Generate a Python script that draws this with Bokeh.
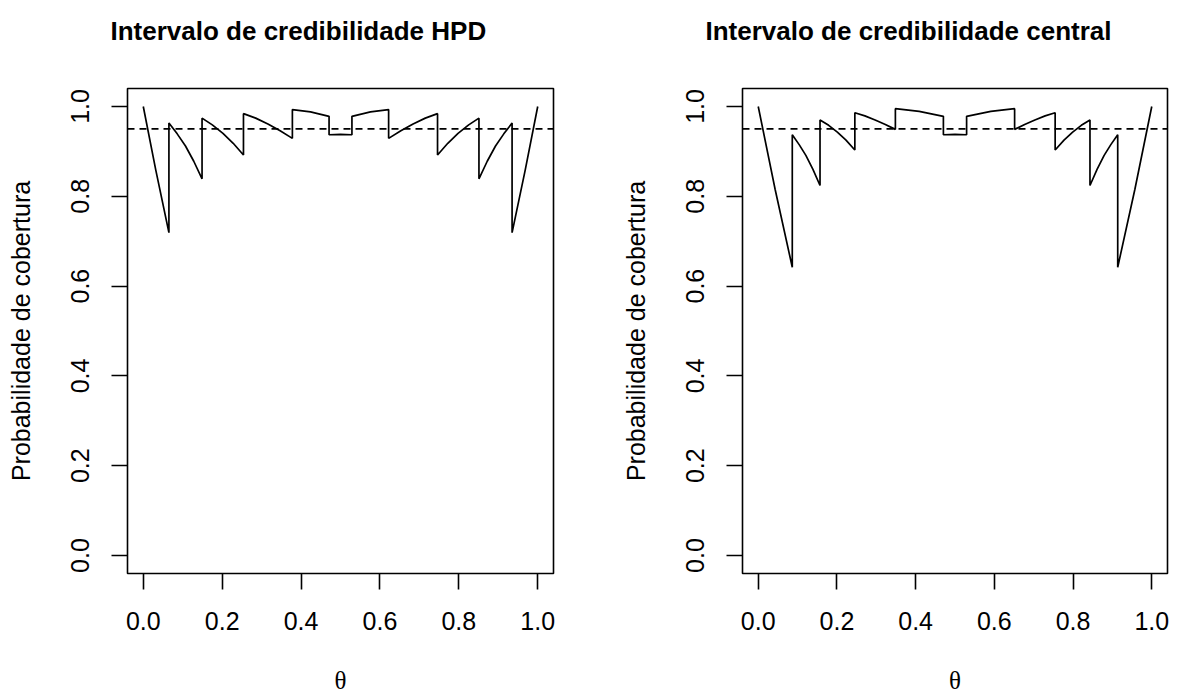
from bokeh.plotting import figure
from bokeh.layouts import row
from bokeh.models import Span, Title, FixedTicker, Range1d, NumeralTickFormatter
from bokeh.embed import file_html
from bokeh.resources import INLINE

# ---- data ----
theta_hpd = [0.0, 0.032, 0.065,
             0.065, 0.086, 0.107, 0.128, 0.149,
             0.149, 0.175, 0.202, 0.228, 0.254,
             0.254, 0.285, 0.316, 0.347, 0.378,
             0.378, 0.424, 0.471,
             0.471, 0.5, 0.529,
             0.529, 0.576, 0.622,
             0.622, 0.653, 0.684, 0.715, 0.746,
             0.746, 0.772, 0.798, 0.825, 0.851,
             0.851, 0.872, 0.893, 0.914, 0.935,
             0.935, 0.968, 1.0]
cov_hpd = [1.0, 0.857, 0.719,
           0.963, 0.939, 0.912, 0.878, 0.839,
           0.974, 0.959, 0.940, 0.918, 0.892,
           0.984, 0.974, 0.961, 0.946, 0.929,
           0.993, 0.988, 0.978,
           0.937, 0.938, 0.937,
           0.978, 0.988, 0.993,
           0.929, 0.946, 0.961, 0.974, 0.984,
           0.892, 0.918, 0.940, 0.959, 0.974,
           0.839, 0.878, 0.912, 0.939, 0.963,
           0.719, 0.857, 1.0]

theta_central = [0.0, 0.043, 0.0865,
                 0.0865, 0.104, 0.121, 0.139, 0.157,
                 0.157, 0.179, 0.201, 0.223, 0.2455,
                 0.2455, 0.271, 0.297, 0.323, 0.3485,
                 0.3485, 0.409, 0.4705,
                 0.4705, 0.5, 0.5295,
                 0.5295, 0.591, 0.6515,
                 0.6515, 0.677, 0.703, 0.729, 0.7545,
                 0.7545, 0.777, 0.799, 0.821, 0.843,
                 0.843, 0.861, 0.879, 0.896, 0.9135,
                 0.9135, 0.957, 1.0]
cov_central = [1.0, 0.815, 0.642,
               0.937, 0.915, 0.891, 0.860, 0.824,
               0.970, 0.958, 0.943, 0.925, 0.903,
               0.986, 0.979, 0.970, 0.960, 0.949,
               0.995, 0.989, 0.978,
               0.937, 0.938, 0.937,
               0.978, 0.989, 0.995,
               0.949, 0.960, 0.970, 0.979, 0.986,
               0.903, 0.925, 0.943, 0.958, 0.970,
               0.824, 0.860, 0.891, 0.915, 0.937,
               0.642, 0.815, 1.0]

nominal = 0.95
ticks = [0.0, 0.2, 0.4, 0.6, 0.8, 1.0]
titles = ["Intervalo de credibilidade HPD", "Intervalo de credibilidade central"]
ylab = "Probabilidade de cobertura"
xlab = "\u03b8"

SANS = "Liberation Sans"
FS = "25px"


def panel(title, th, cov, frame_w, b_left, b_right, title_off):
    p = figure(frame_width=frame_w, frame_height=485,
               min_border_left=b_left, min_border_right=b_right,
               min_border_top=88, min_border_bottom=122,
               x_range=Range1d(-0.04, 1.04), y_range=Range1d(-0.04, 1.04),
               output_backend="svg", toolbar_location=None)
    p.background_fill_color = "white"
    p.border_fill_color = "white"
    p.outline_line_color = "black"
    p.outline_line_width = 1.6
    p.xgrid.visible = False
    p.ygrid.visible = False

    p.line(th, cov, line_color="black", line_width=1.7)
    p.add_layout(Span(location=nominal, dimension="width", line_color="black",
                      line_width=1.6, line_dash="7 5"))

    for ax in (p.xaxis[0], p.yaxis[0]):
        ax.ticker = FixedTicker(ticks=ticks)
        ax.formatter = NumeralTickFormatter(format="0.0")
        ax.axis_line_color = None
        ax.major_tick_line_color = "black"
        ax.major_tick_line_width = 1.6
        ax.major_tick_out = 16
        ax.major_tick_in = 0
        ax.minor_tick_line_color = None
        ax.major_label_text_font = SANS
        ax.major_label_text_font_size = FS
        ax.major_label_text_color = "black"
        ax.major_label_standoff = 22
        ax.axis_label_text_font_style = "normal"
        ax.axis_label_text_color = "black"
        ax.axis_label_text_font_size = FS

    p.yaxis[0].major_label_orientation = "vertical"
    p.yaxis[0].axis_label = ylab
    p.yaxis[0].axis_label_text_font = SANS
    p.yaxis[0].axis_label_standoff = 34
    p.xaxis[0].axis_label = xlab
    p.xaxis[0].axis_label_text_font = "Liberation Serif"
    p.xaxis[0].axis_label_standoff = 34

    # blank spacer between the title and the plot frame
    p.add_layout(Title(text=" ", text_font_size="20px", standoff=5), "above")
    p.title = Title(text=title, align="left", offset=title_off,
                    vertical_align="top",
                    text_font=SANS, text_font_style="bold",
                    text_font_size="26px", text_color="black",
                    standoff=24)
    return p


p1 = panel(titles[0], theta_hpd, cov_hpd, 426, 127, 62, -17)
p2 = panel(titles[1], theta_central, cov_central, 425, 127, 26, -37)

layout = row(p1, p2)
open("out.html", "w").write(file_html(layout, INLINE))
